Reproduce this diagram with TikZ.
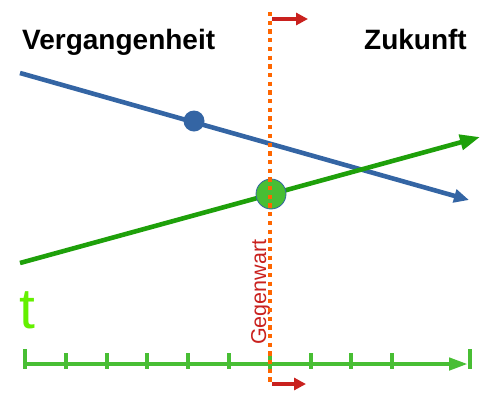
\documentclass[tikz,border=0pt]{standalone}
\usepackage{fontspec}
\setmainfont{Liberation Sans}
\usetikzlibrary{arrows.meta}
\definecolor{lblue}{RGB}{52,101,164}
\definecolor{lgreen}{RGB}{30,160,10}
\definecolor{axgreen}{RGB}{72,190,52}
\definecolor{lred}{RGB}{201,33,30}
\definecolor{lorange}{RGB}{255,102,0}
\definecolor{tgreen}{RGB}{100,240,0}
\tikzset{
  blueline/.style={draw=lblue, line width=4.6pt, -{Triangle[length=15pt,width=13pt]}},
  greenline/.style={draw=lgreen, line width=4.6pt, -{Triangle[length=20pt,width=15pt]}},
  axisline/.style={draw=axgreen, line width=4.4pt, -{Triangle[length=19pt,width=12pt]}},
  tickline/.style={draw=axgreen, line width=4pt},
  nowline/.style={draw=lorange, line width=4.3pt, dash pattern=on 4.3pt off 4.4pt},
  redarrow/.style={draw=lred, line width=4.4pt, -{Triangle[length=12pt,width=12pt]}},
  headlabel/.style={inner sep=0pt, font=\fontsize{28}{32}\selectfont\bfseries},
}
\begin{document}
\begin{tikzpicture}[x=1pt,y=-1pt]
\useasboundingbox (0,0) rectangle (500,400);
% labels
\node[headlabel, anchor=base west] (past) at (22,49) {Vergangenheit};
\node[headlabel, anchor=base east] (future) at (467,49) {Zukunft};
\node[inner sep=0pt, anchor=base west, text=tgreen, font=\fontsize{57}{60}\selectfont] (t) at (19,328) {t};
% coordinates
\coordinate (b0) at (20,73);
\coordinate (b1) at (469,200);
\coordinate (g0) at (20,263);
\coordinate (g1) at (480,137);
\coordinate (ax0) at (25,364);
\coordinate (ax1) at (468,364);
\coordinate (n0) at (270.3,12);
\coordinate (n1) at (270.3,386);
\coordinate (r0) at (272,19);
\coordinate (r1) at (308,19);
\coordinate (s0) at (272,384);
\coordinate (s1) at (306,384);
% lines
\draw[blueline] (b0) -- (b1);
\draw[greenline] (g0) -- (g1);
\node[circle, fill=lblue, minimum size=21pt, inner sep=0pt] (bdot) at (194,121) {};
\node[circle, fill=axgreen, draw=lblue, line width=0.8pt, minimum size=30pt, inner sep=0pt] (gdot) at (271,194) {};
% time axis
\draw[axisline] (ax0) -- (ax1);
\draw[tickline] (25,349) -- (25,369);
\draw[tickline] (470,349) -- (470,369);
\foreach \k in {1,...,9} \draw[tickline] (25+40.8*\k,353) -- (25+40.8*\k,369);
% present
\node[inner sep=0pt, rotate=90, anchor=base west, text=lred, font=\fontsize{21.5}{24}\selectfont] (now) at (266,345) {Gegenwart};
\draw[nowline] (n0) -- (n1);
\draw[redarrow] (r0) -- (r1);
\draw[redarrow] (s0) -- (s1);
\end{tikzpicture}
\end{document}
